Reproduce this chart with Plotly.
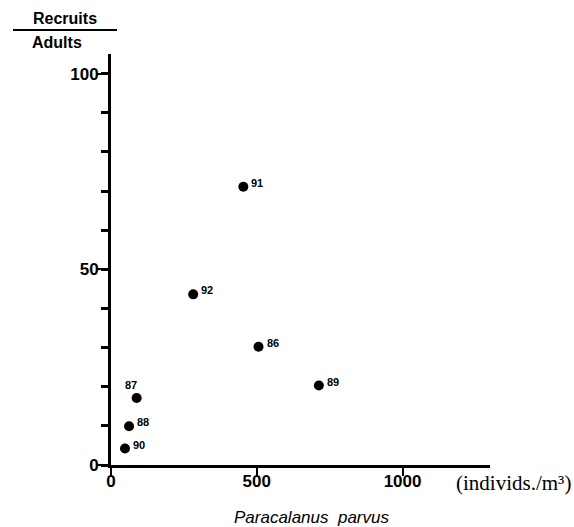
import plotly.graph_objects as go

# ---- data ----
years = ["91", "92", "86", "89", "87", "88", "90"]
abundance = [454, 282, 506, 713, 88, 62, 48]          # individs./m3
recruit_ratio = [71.1, 43.6, 30.2, 20.3, 17.1, 9.9, 4.2]  # Recruits/Adults

x_ticks = [0, 500, 1000]
y_ticks = [0, 10, 20, 30, 40, 50, 60, 70, 80, 90, 100]
y_labeled = [0, 50, 100]
y_range = [0, 105]

# ---- layout geometry (pixels) ----
W, H = 574, 527
L, R, T, B = 111, 84, 54, 62
PW, PH = W - L - R, H - T - B

def px(xp):
    return (xp - L) / PW

def py(yp):
    return (H - B - yp) / PH

fig = go.Figure()
fig.add_trace(go.Scatter(
    x=abundance, y=recruit_ratio, mode="markers",
    marker=dict(size=10, color="black"),
    hoverinfo="skip", showlegend=False,
))

# point labels
label_style = {"87": dict(xanchor="center", xshift=-6, yshift=13)}
for xv, yv, lab in zip(abundance, recruit_ratio, years):
    st = label_style.get(lab, dict(xanchor="left", xshift=6, yshift=4))
    fig.add_annotation(
        x=xv, y=yv, text=lab, showarrow=False, yanchor="middle",
        font=dict(family="Liberation Sans", size=11, color="black", weight="bold"),
        **st,
    )

tickfont = dict(family="Liberation Sans", size=17, color="black", weight="bold")

fig.update_layout(
    xaxis=dict(
        range=[0, 1300], tickmode="array", tickvals=x_ticks, ticktext=[str(v) for v in x_ticks],
        showgrid=False, zeroline=False, showline=True, linecolor="black", linewidth=3,
        ticks="outside", ticklen=8, tickwidth=2, tickcolor="black", tickfont=tickfont,
        ticklabelstandoff=-9,
    ),
    yaxis=dict(
        range=y_range, tickmode="array", tickvals=y_ticks,
        ticktext=[str(v) if v in y_labeled else " " for v in y_ticks],
        showgrid=False, zeroline=False, showline=True, linecolor="black", linewidth=3,
        ticks="outside", ticklen=7, tickwidth=3, tickcolor="black", tickfont=tickfont,
        ticklabelstandoff=-1,
        minor=dict(tickmode="array", tickvals=y_labeled, ticks="outside", ticklen=12,
                   tickwidth=2, tickcolor="black", showgrid=False),
    ),
)

# y-axis title: Recruits / Adults
fig.add_annotation(x=px(65), y=py(18), xref="paper", yref="paper", text="Recruits",
                   showarrow=False, xanchor="center", yanchor="middle",
                   font=dict(family="Liberation Sans", size=16, color="black", weight="bold"))
fig.add_shape(type="line", xref="paper", yref="paper",
              x0=px(13), x1=px(117), y0=py(30), y1=py(30),
              line=dict(color="black", width=2))
fig.add_annotation(x=px(57), y=py(43), xref="paper", yref="paper", text="Adults",
                   showarrow=False, xanchor="center", yanchor="middle",
                   font=dict(family="Liberation Sans", size=16, color="black", weight="bold"))

# x-axis unit and species name
fig.add_annotation(x=px(454), y=py(483), xref="paper", yref="paper", text="(individs./m³)",
                   showarrow=False, xanchor="left", yanchor="middle",
                   font=dict(family="Liberation Serif", size=21, color="black"))
fig.add_annotation(x=px(311), y=py(517), xref="paper", yref="paper",
                   text="<i>Paracalanus  parvus</i>",
                   showarrow=False, xanchor="center", yanchor="middle",
                   font=dict(family="Liberation Sans", size=17, color="black"))

fig.update_layout(
    width=W, height=H, margin=dict(l=L, r=R, t=T, b=B),
    paper_bgcolor="white", plot_bgcolor="white",
)

fig.write_html("out.html")
